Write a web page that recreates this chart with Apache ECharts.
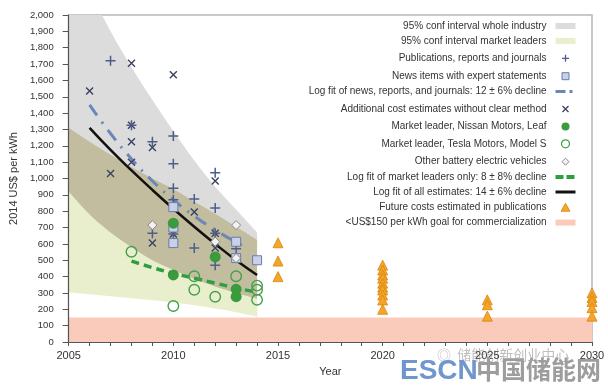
<!DOCTYPE html>
<html><head><meta charset="utf-8">
<script src="https://cdn.jsdelivr.net/npm/echarts@6/dist/echarts.min.js"></script>
<style>html,body{margin:0;padding:0;background:#fff}#c{width:608px;height:388px}</style>
</head><body><div id="c"></div>
<script>
// ---------- data ----------
const bandYears      = [2005, 2006, 2007, 2008, 2009, 2010, 2011, 2012, 2013, 2014];
const wholeUpper     = [2400, 2150, 1900, 1680, 1480, 1290, 1110, 950, 810, 670];
const wholeLower     = [920, 780, 670, 580, 500, 440, 385, 340, 300, 265];
const leadersUpper   = [1310, 1225, 1145, 1070, 1000, 935, 860, 785, 705, 625];
const leadersLower   = [305, 292, 280, 268, 256, 242, 225, 205, 182, 155];

const allFitYears    = [2006, 2007, 2008, 2009, 2010, 2011, 2012, 2013, 2014];
const allFitValues   = [1310, 1175, 1050, 930, 815, 705, 600, 500, 410];
const newsFitYears   = [2006, 2007, 2008, 2009, 2010, 2011, 2012, 2013, 2013.5];
const newsFitValues  = [1450, 1275, 1120, 985, 870, 770, 685, 610, 575];
const leadFitYears   = [2008, 2009, 2010, 2011, 2012, 2013, 2014];
const leadFitValues  = [495, 455, 420, 390, 360, 330, 305];

const goalYears      = [2005, 2030];
const goalValues     = [150, 150];

const publications = [[2007,1720],[2008,1325],[2009,1225],[2009,665],[2010,1260],[2010,1090],[2010,940],[2010,870],[2010,660],[2011,875],[2011,575],[2012,1035],[2012,820],[2012,665],[2012,470],[2013,570]];
const newsItems    = [[2010,825],[2010,700],[2010,605],[2013,613],[2013,513],[2014,500]];
const additional   = [[2006,1535],[2007,1030],[2008,1705],[2008,1325],[2008,1225],[2008,1100],[2009,1190],[2009,605],[2010,1635],[2010,660],[2011,795],[2012,985],[2012,665],[2012,575],[2013,510]];
const nissanLeaf   = [[2010,727],[2010,410],[2012,520],[2013,322],[2013,277]];
const teslaModelS  = [[2008,552],[2010,220],[2011,402],[2011,320],[2012,277],[2013,402],[2014,345],[2014,320],[2014,258]];
const otherBEV     = [[2009,715],[2012,613],[2013,715],[2013,513]];
const futureCosts  = [[2015,607],[2015,495],[2015,400],[2020,470],[2020,440],[2020,410],[2020,390],[2020,360],[2020,335],[2020,318],[2020,287],[2020,257],[2020,200],[2025,258],[2025,228],[2025,158],[2030,300],[2030,272],[2030,248],[2030,210],[2030,158]];

const xTicks = [2005, 2010, 2015, 2020, 2025, 2030];

const N = {
  whole: '95% conf interval whole industry',
  leaders: '95% conf interval market leaders',
  pubs: 'Publications, reports and journals',
  news: 'News items with expert statements',
  newsFit: 'Log fit of news, reports, and journals: 12 ± 6% decline',
  add: 'Additional cost estimates without clear method',
  nissan: 'Market leader, Nissan Motors, Leaf',
  tesla: 'Market leader, Tesla Motors, Model S',
  other: 'Other battery electric vehicles',
  leadFit: 'Log fit of market leaders only: 8 ± 8% decline',
  allFit: 'Log fit of all estimates: 14 ± 6% decline',
  future: 'Future costs estimated in publications',
  goal: '<US$150 per kWh goal for commercialization'
};

// ---------- styles ----------
const FONT = "'Liberation Sans','Open Sans',sans-serif";
const C = {
  gray: '#dcdcdc', lgreen: '#e9efcd', olive: '#c2bd9e', pink: '#facbbb',
  plus: '#4d5d8c', sqFill: '#c8d0ea', sqBorder: '#6b7bab', cross: '#3b4260',
  green: '#3a9a3e', tesla: '#45a04a', diaFill: '#f2f2f2', diaBorder: '#8a8a8a',
  tri: '#f5a52a', triBorder: '#d9860e', blueFit: '#6b86b8', greenFit: '#2e9e40', black: '#111'
};

const zip = (xs, ys) => xs.map((x, i) => [x, ys[i]]);

// bands are painted as layered areas (each filled down to 0), top curve first
function bandLayer(name, values, color) {
  return { name: name, type: 'line', z: 1, data: zip(bandYears, values), symbol: 'none', smooth: 0.3,
    silent: true, itemStyle: { color: color }, lineStyle: { width: 0, opacity: 0 },
    areaStyle: { color: color, opacity: 1 } };
}
function scatter(name, data, symbol, size, style) {
  return { name: name, type: 'scatter', z: 4, data: data, symbol: symbol, symbolSize: size, clip: false,
    itemStyle: Object.assign({ opacity: 1 }, style) };
}

const BB = 'M0,0M20,10'; // bounding box for legend icons
const series = [
  bandLayer(N.whole, wholeUpper, C.gray),          // gray above leaders' upper bound
  bandLayer('overlap', leadersUpper, C.olive),     // overlap of both intervals
  bandLayer(N.leaders, wholeLower, C.lgreen),      // leaders-only part
  bandLayer('below', leadersLower, '#ffffff'),     // outside both intervals
  { name: N.goal, type: 'line', z: 1, data: zip(goalYears, goalValues), symbol: 'none', silent: true,
    itemStyle: { color: C.pink }, lineStyle: { width: 0, opacity: 0 }, areaStyle: { color: C.pink, opacity: 1 } },
  { name: N.newsFit, type: 'line', z: 3, data: zip(newsFitYears, newsFitValues), symbol: 'none', smooth: true,
    itemStyle: { color: C.blueFit }, lineStyle: { color: C.blueFit, width: 3, type: [13, 8, 2, 8] } },
  { name: N.allFit, type: 'line', z: 3, data: zip(allFitYears, allFitValues), symbol: 'none', smooth: true,
    itemStyle: { color: C.black }, lineStyle: { color: C.black, width: 2.5 } },
  { name: N.leadFit, type: 'line', z: 3, data: zip(leadFitYears, leadFitValues), symbol: 'none', smooth: true,
    itemStyle: { color: C.greenFit }, lineStyle: { color: C.greenFit, width: 3.5, type: [8, 5] } },
  scatter(N.add, additional, 'path://M0,0L10,10M10,0L0,10', 7, { color: 'none', borderColor: C.cross, borderWidth: 1.4 }),
  scatter(N.pubs, publications, 'path://M5,0V10M0,5H10', 10, { color: 'none', borderColor: C.plus, borderWidth: 1.5 }),
  scatter(N.news, newsItems, 'rect', 9, { color: C.sqFill, borderColor: C.sqBorder, borderWidth: 1 }),
  scatter(N.other, otherBEV, 'diamond', 9, { color: C.diaFill, borderColor: C.diaBorder, borderWidth: 1 }),
  scatter(N.tesla, teslaModelS, 'circle', 10.5, { color: 'rgba(0,0,0,0)', borderColor: C.tesla, borderWidth: 1.4 }),
  scatter(N.nissan, nissanLeaf, 'circle', 11, { color: C.green, borderWidth: 0 }),
  scatter(N.future, futureCosts, 'triangle', 10, { color: C.tri, borderColor: C.triBorder, borderWidth: 0.8 })
];

const legendData = [
  { name: N.whole, icon: 'path://M0,2H20V8H0Z', itemStyle: { color: C.gray, borderWidth: 0 } },
  { name: N.leaders, icon: 'path://M0,2H20V8H0Z', itemStyle: { color: C.lgreen, borderWidth: 0 } },
  { name: N.pubs, icon: 'path://' + BB + 'M10,1.5V8.5M6.5,5H13.5', itemStyle: { color: 'none', borderColor: C.plus, borderWidth: 1.3 } },
  { name: N.news, icon: 'path://' + BB + 'M6.5,1.5H13.5V8.5H6.5Z', itemStyle: { color: C.sqFill, borderColor: C.sqBorder, borderWidth: 1 } },
  { name: N.newsFit, icon: 'path://' + BB + 'M0,3.5H10V6.5H0Z M14,3.5H17V6.5H14Z', itemStyle: { color: C.blueFit, borderWidth: 0 } },
  { name: N.add, icon: 'path://' + BB + 'M7,2L13,8M13,2L7,8', itemStyle: { color: 'none', borderColor: C.cross, borderWidth: 1.3 } },
  { name: N.nissan, icon: 'path://' + BB + 'M14,5A4,4,0,1,1,6,5A4,4,0,1,1,14,5Z', itemStyle: { color: C.green, borderWidth: 0 } },
  { name: N.tesla, icon: 'path://' + BB + 'M14,5A4,4,0,1,1,6,5A4,4,0,1,1,14,5Z', itemStyle: { color: 'none', borderColor: C.tesla, borderWidth: 1.3 } },
  { name: N.other, icon: 'path://' + BB + 'M10,1.5L13.5,5L10,8.5L6.5,5Z', itemStyle: { color: C.diaFill, borderColor: C.diaBorder, borderWidth: 1 } },
  { name: N.leadFit, icon: 'path://' + BB + 'M0,3H8V7H0Z M11,3H19V7H11Z', itemStyle: { color: C.greenFit, borderWidth: 0 } },
  { name: N.allFit, icon: 'path://' + BB + 'M0,3.5H20V6.5H0Z', itemStyle: { color: C.black, borderWidth: 0 } },
  { name: N.future, icon: 'path://' + BB + 'M10,1L14.5,9H5.5Z', itemStyle: { color: C.tri, borderColor: C.triBorder, borderWidth: 0.8 } },
  { name: N.goal, icon: 'path://M0,2H20V8H0Z', itemStyle: { color: C.pink, borderWidth: 0 } }
];

const chart = echarts.init(document.getElementById('c'), null, { renderer: 'canvas' });
chart.setOption({
  animation: false,
  backgroundColor: '#fff',
  grid: { left: 63, right: 16, top: 15, bottom: 46, show: true, borderColor: '#b8b8b8', borderWidth: 1.5, backgroundColor: '#fff' },
  legend: {
    orient: 'vertical', right: 25, top: 16, align: 'right', selectedMode: false,
    itemWidth: 20, itemHeight: 10, itemGap: 4.9, z: 6,
    textStyle: { fontFamily: FONT, fontSize: 10, color: '#333', padding: [0, 4, 0, 0] },
    data: legendData
  },
  xAxis: {
    type: 'value', min: 2005, max: 2030, interval: 5, z: 5,
    name: 'Year', nameLocation: 'middle', nameGap: 24,
    nameTextStyle: { fontFamily: FONT, fontSize: 11, color: '#333' },
    axisLine: { lineStyle: { color: '#555', width: 1.2 } },
    axisTick: { show: true, length: 4, lineStyle: { color: '#555' } },
    minorTick: { show: true, splitNumber: 5, length: 4, lineStyle: { color: '#555' } },
    splitLine: { show: false },
    axisLabel: { fontFamily: FONT, fontSize: 11, color: '#333', margin: 8,
      customValues: xTicks, formatter: v => String(v) }
  },
  yAxis: {
    type: 'value', min: 0, max: 2000, interval: 100, z: 5,
    name: '2014 US$ per kWh', nameLocation: 'middle', nameGap: 43, nameRotate: 90,
    nameTextStyle: { fontFamily: FONT, fontSize: 11, color: '#333' },
    axisLine: { show: true, lineStyle: { color: '#555', width: 1.2 } },
    axisTick: { show: true, length: 6, lineStyle: { color: '#555' } },
    splitLine: { show: false },
    axisLabel: { fontFamily: FONT, fontSize: 9.5, color: '#333', margin: 15,
      formatter: v => v.toLocaleString('en-US') }
  },
  series: series,
  graphic: [
    { type: 'text', left: 437, top: 348, z: 100, silent: true,
      style: { text: '◎  储能创新创业中心', font: '14px "Noto Sans CJK SC"', fill: 'rgba(110,110,110,0.45)' } },
    { type: 'text', left: 400, top: 357, z: 100, silent: true,
      style: { text: 'ESCN', font: 'bold 28px "Liberation Sans"', fill: '#6f96cf' } },
    { type: 'text', left: 476, top: 357, z: 100, silent: true,
      style: { text: '中国储能网', font: 'bold 25px "Noto Sans CJK SC"', fill: '#9d9d9d' } }
  ]
});
</script>
</body></html>
